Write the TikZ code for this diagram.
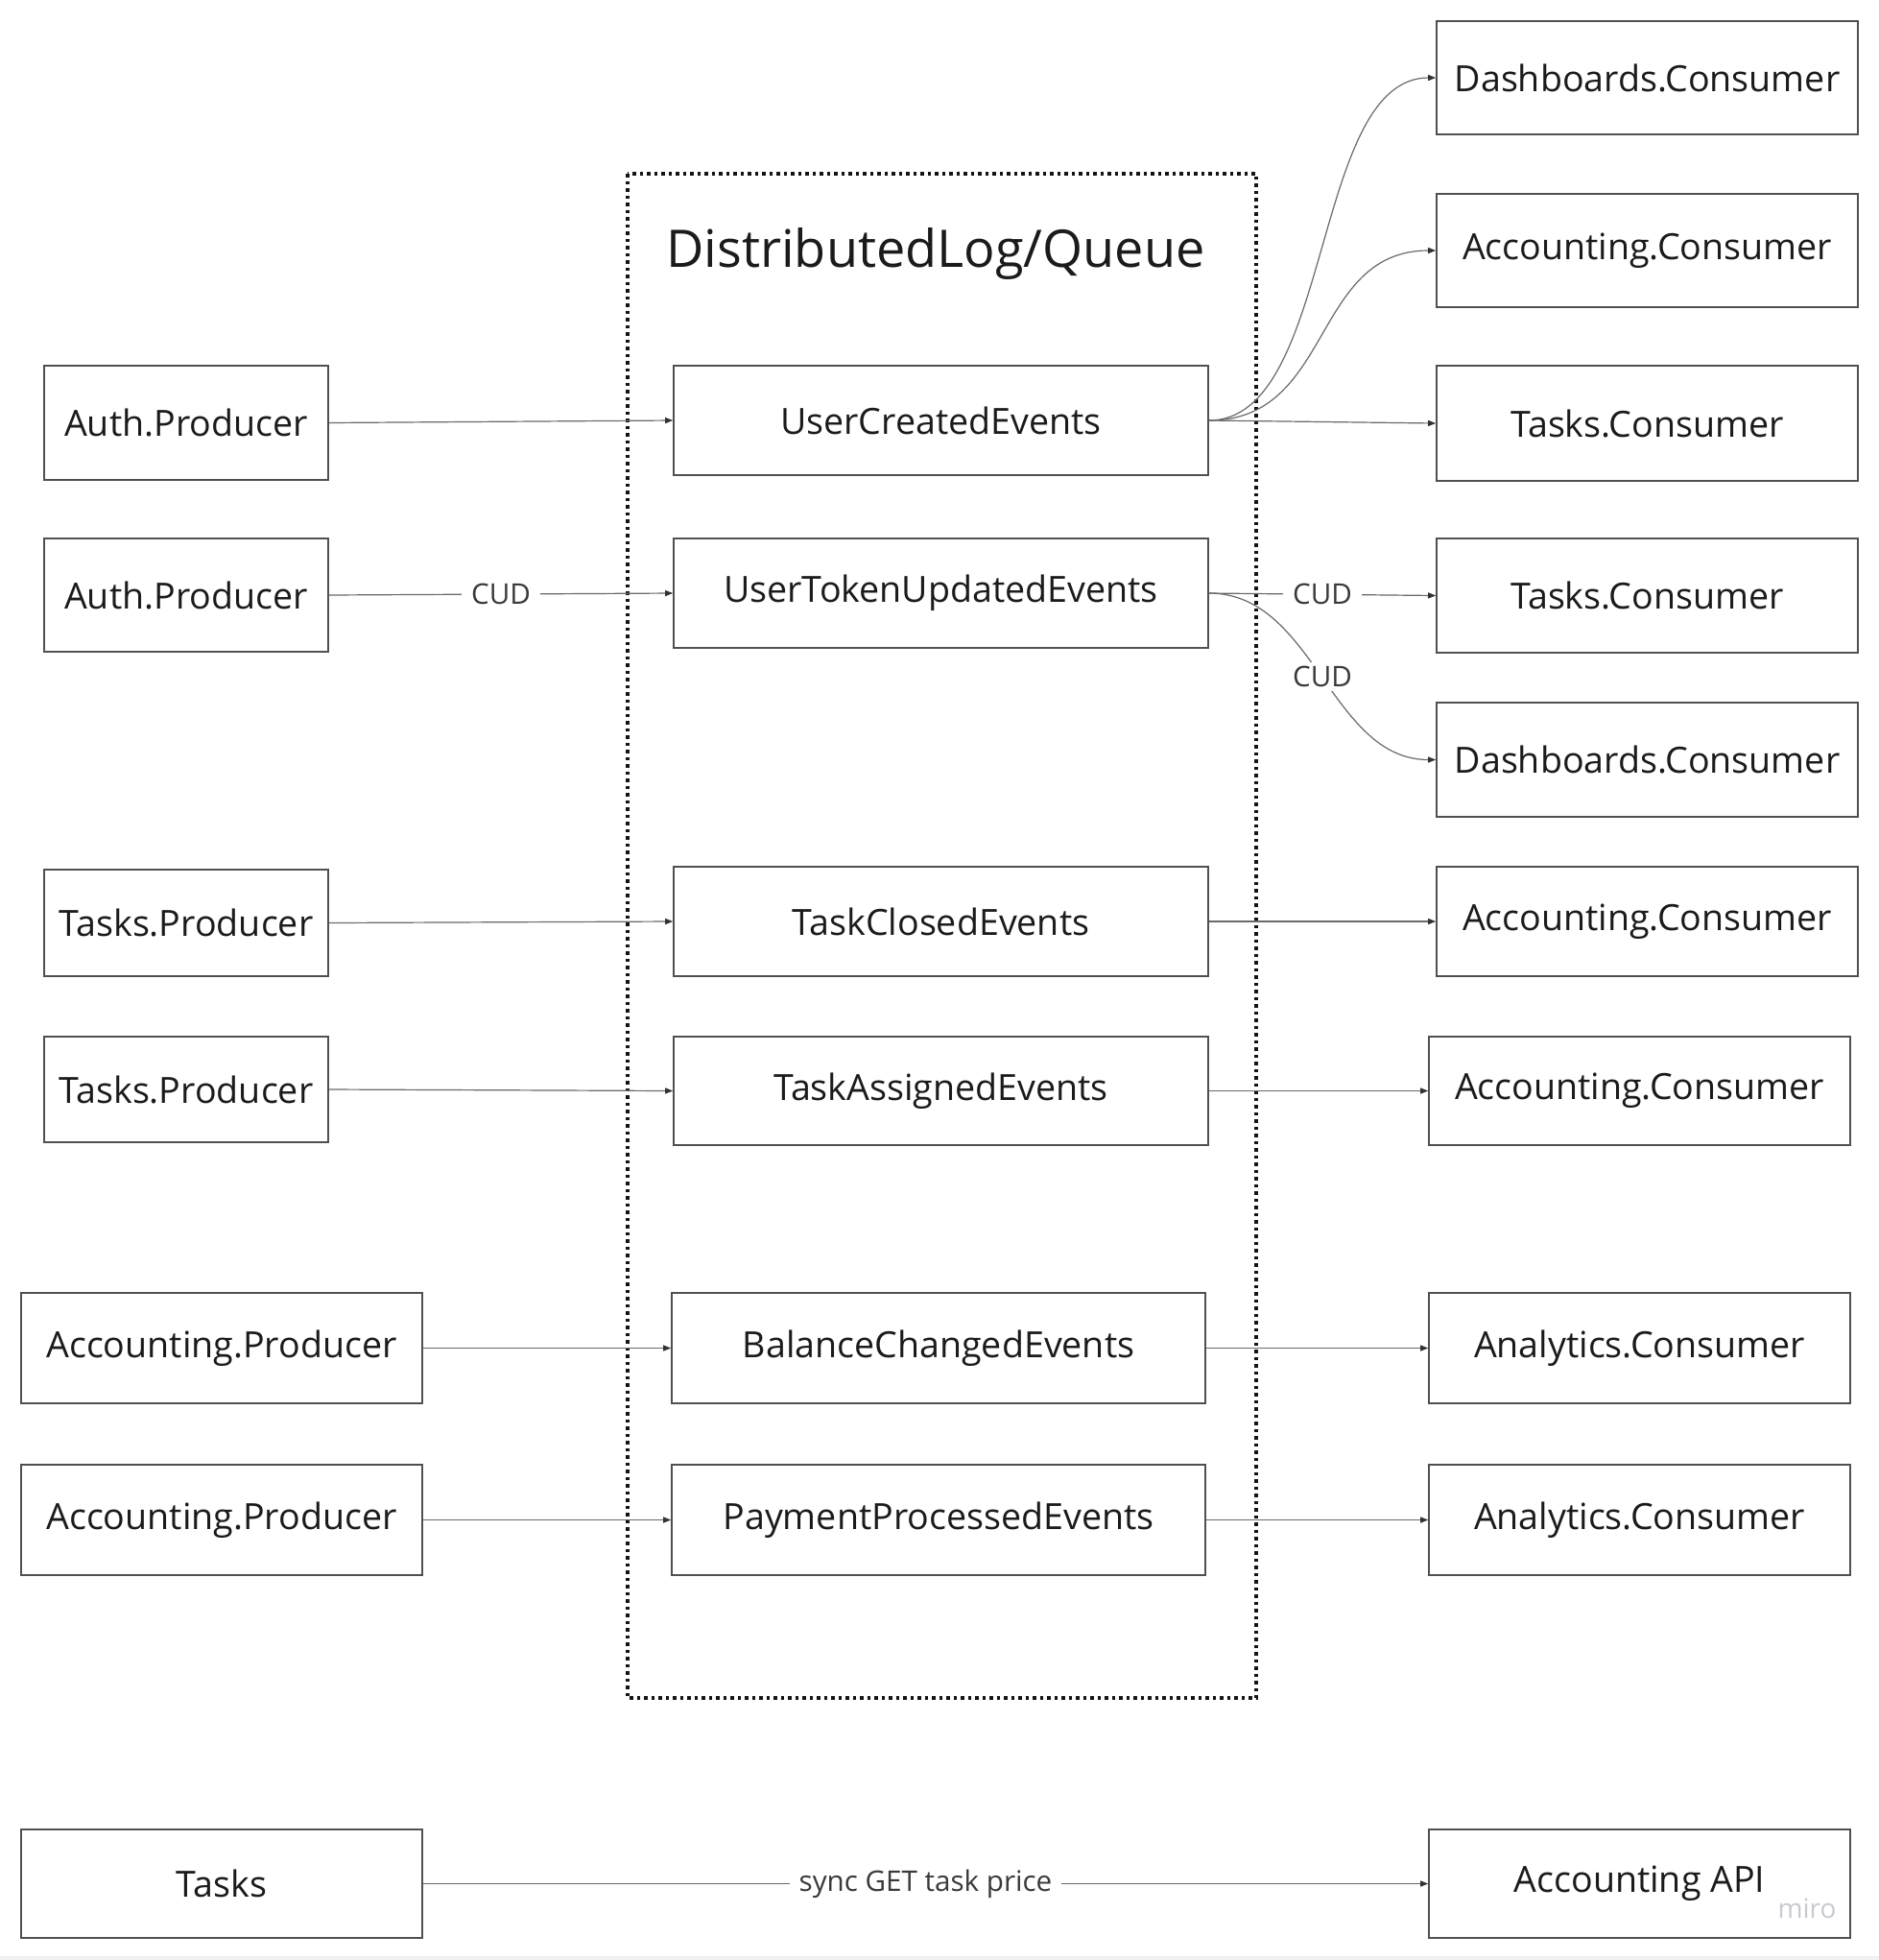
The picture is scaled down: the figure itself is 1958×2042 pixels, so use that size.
\documentclass[tikz,border=0pt]{standalone}
\usepackage{fontspec}
\setmainfont{Open Sans}
\usetikzlibrary{arrows.meta}
\definecolor{boxline}{HTML}{505050}
\definecolor{conn}{HTML}{6A6A6A}
\definecolor{tipc}{HTML}{333333}
\definecolor{txt}{HTML}{1B1B1B}
\definecolor{lbl}{HTML}{3A3A3A}
\definecolor{mirogray}{HTML}{C9C9D3}
\definecolor{strip}{HTML}{F1F1F4}
\tikzset{
  box/.style={draw=boxline, line width=0.8pt, inner sep=0pt, text=txt,
    font=\fontsize{18.8pt}{22pt}\selectfont},
  conn/.style={draw=conn, line width=0.6pt,
    -{Triangle[length=4pt,width=3pt,color=tipc]}},
  lab/.style={fill=white, text=lbl, inner xsep=5pt, inner ysep=2pt,
    font=\fontsize{14.8pt}{17pt}\selectfont},
  queue/.style={draw=black!92, line width=1.75pt, dash pattern=on 1.75pt off 2pt}
}
% #1 name, #2 x1, #3 y1, #4 x2, #5 y2, #6 text (pixel coordinates)
\newcommand\mkbox[6]{%
  \node[box, minimum width={(#4-#2)*0.5pt}, minimum height={(#5-#3)*0.5pt}]
    (#1) at ({(#2+#4)/2},{(#3+#5)/2}) {#6};}
\begin{document}
\begin{tikzpicture}[x=0.5pt,y=-0.5pt]
\useasboundingbox (0,0) rectangle (1958,2042);
\fill[white] (0,0) rectangle (1958,2042);
\fill[strip] (0,2038) rectangle (1958,2042);

% queue container
\draw[queue] (654,181) rectangle (1309,1769);
\node[text=txt, font=\fontsize{27pt}{32pt}\selectfont] (title) at (975,264) {DistributedLog/Queue};

% left producers
\mkbox{ap1}{46}{381}{342}{500}{Auth.Producer}
\mkbox{ap2}{46}{561}{342}{679}{Auth.Producer}
\mkbox{tp1}{46}{906}{342}{1017}{Tasks.Producer}
\mkbox{tp2}{46}{1080}{342}{1190}{Tasks.Producer}
\mkbox{acp1}{22}{1347}{440}{1462}{Accounting.Producer}
\mkbox{acp2}{22}{1526}{440}{1641}{Accounting.Producer}
\mkbox{tasks}{22}{1906}{440}{2019}{Tasks}

% event topics
\mkbox{uce}{702}{381}{1259}{495}{UserCreatedEvents}
\mkbox{utu}{702}{561}{1259}{675}{UserTokenUpdatedEvents}
\mkbox{tce}{702}{903}{1259}{1017}{TaskClosedEvents}
\mkbox{tae}{702}{1080}{1259}{1193}{TaskAssignedEvents}
\mkbox{bce}{700}{1347}{1256}{1462}{BalanceChangedEvents}
\mkbox{ppe}{700}{1526}{1256}{1641}{PaymentProcessedEvents}

% consumers
\mkbox{dc1}{1497}{22}{1936}{140}{Dashboards.Consumer}
\mkbox{acc1}{1497}{202}{1936}{320}{Accounting.Consumer}
\mkbox{tc1}{1497}{381}{1936}{501}{Tasks.Consumer}
\mkbox{tc2}{1497}{561}{1936}{680}{Tasks.Consumer}
\mkbox{dc2}{1497}{732}{1936}{851}{Dashboards.Consumer}
\mkbox{acc2}{1497}{903}{1936}{1017}{Accounting.Consumer}
\mkbox{acc3}{1489}{1080}{1928}{1193}{Accounting.Consumer}
\mkbox{an1}{1489}{1347}{1928}{1462}{Analytics.Consumer}
\mkbox{an2}{1489}{1526}{1928}{1641}{Analytics.Consumer}
\mkbox{api}{1489}{1906}{1928}{2019}{Accounting API}

% producers -> topics
\draw[conn] (ap1.east) -- (uce.west);
\draw[conn] (ap2.east) -- node[lab] {CUD} (utu.west);
\draw[conn] (tp1.east) -- (tce.west);
\draw[conn] (tp2.east) -- (tae.west);
\draw[conn] (acp1.east) -- (bce.west);
\draw[conn] (acp2.east) -- (ppe.west);

% topics -> consumers
\draw[conn] (uce.east) .. controls +(130,0) and +(-130,0) .. (dc1.west);
\draw[conn] (uce.east) .. controls +(130,0) and +(-130,0) .. (acc1.west);
\draw[conn] (uce.east) -- (tc1.west);
\draw[conn] (utu.east) -- node[lab] {CUD} (tc2.west);
\draw[conn] (utu.east) .. controls +(110,0) and +(-110,0) .. node[lab] {CUD} (dc2.west);
\draw[conn] (tce.east) -- (acc2.west);
\draw[conn] (tae.east) -- (acc3.west);
\draw[conn] (bce.east) -- (an1.west);
\draw[conn] (ppe.east) -- (an2.west);

% sync call
\draw[conn] (tasks.east) -- node[lab] {sync GET task price} (api.west);

% watermark
\node[text=mirogray, font=\fontsize{14pt}{16pt}\selectfont] (miro) at (1883,1988) {miro};
\end{tikzpicture}
\end{document}
